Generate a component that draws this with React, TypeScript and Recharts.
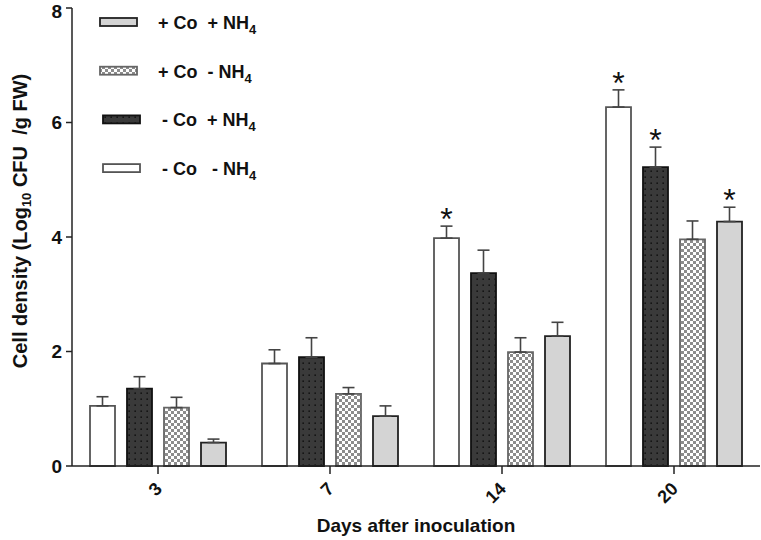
import React from 'react';
import { BarChart, Bar, XAxis, YAxis, ErrorBar, LabelList } from 'recharts';

const DAYS = ['3', '7', '14', '20'];

// series values (Log10 CFU / g FW)
const CO_NEG_NH4_NEG = [1.05, 1.79, 3.98, 6.27];
const CO_NEG_NH4_POS = [1.35, 1.9, 3.37, 5.22];
const CO_POS_NH4_NEG = [1.02, 1.26, 1.99, 3.96];
const CO_POS_NH4_POS = [0.41, 0.87, 2.27, 4.27];

// upper error (SE)
const ERR_CO_NEG_NH4_NEG = [0.16, 0.24, 0.21, 0.3];
const ERR_CO_NEG_NH4_POS = [0.21, 0.34, 0.4, 0.35];
const ERR_CO_POS_NH4_NEG = [0.18, 0.11, 0.25, 0.32];
const ERR_CO_POS_NH4_POS = [0.06, 0.18, 0.24, 0.25];

// significance marks
const SIG_CO_NEG_NH4_NEG = [false, false, true, true];
const SIG_CO_NEG_NH4_POS = [false, false, false, true];
const SIG_CO_POS_NH4_NEG = [false, false, false, false];
const SIG_CO_POS_NH4_POS = [false, false, false, true];

const Y_TICKS = [0, 2, 4, 6, 8];

const SERIES = [
  { key: 'a', co: '- Co', nh: '- NH', values: CO_NEG_NH4_NEG, err: ERR_CO_NEG_NH4_NEG, sig: SIG_CO_NEG_NH4_NEG, fill: '#ffffff', stroke: '#555555' },
  { key: 'b', co: '- Co', nh: '+ NH', values: CO_NEG_NH4_POS, err: ERR_CO_NEG_NH4_POS, sig: SIG_CO_NEG_NH4_POS, fill: 'url(#dotsPat)', stroke: '#111111' },
  { key: 'c', co: '+ Co', nh: '- NH', values: CO_POS_NH4_NEG, err: ERR_CO_POS_NH4_NEG, sig: SIG_CO_POS_NH4_NEG, fill: 'url(#checkPat)', stroke: '#666666' },
  { key: 'd', co: '+ Co', nh: '+ NH', values: CO_POS_NH4_POS, err: ERR_CO_POS_NH4_POS, sig: SIG_CO_POS_NH4_POS, fill: '#d4d4d4', stroke: '#222222' },
];

const data = DAYS.map((d, i) => {
  const row: any = { day: d };
  SERIES.forEach((s) => {
    row[s.key] = s.values[i];
    row[s.key + 'Err'] = [0, s.err[i]];
  });
  return row;
});

const FONT = '"Liberation Sans", Arial, sans-serif';

const XTick = (props: any) => {
  const { x, y, payload } = props;
  const px = x + 5;
  const py = y + 14;
  return (
    <text
      x={px}
      y={py}
      transform={`rotate(-45, ${px}, ${py})`}
      textAnchor="end"
      fontFamily={FONT}
      fontWeight="bold"
      fontSize={18}
      fill="#111"
    >
      {payload.value}
    </text>
  );
};

const makeStar = (s: any) => (props: any) => {
  const { x, y, width, height, index } = props;
  if (index == null || !s.sig[index]) return null;
  const v = s.values[index];
  const ppu = height / v;
  const capY = y - s.err[index] * ppu;
  return (
    <text
      x={x + width / 2}
      y={capY + 4}
      textAnchor="middle"
      fontFamily={FONT}
      fontSize={32}
      fill="#111"
    >
      *
    </text>
  );
};

const YLabel = (props: any) => {
  const vb = props.viewBox || { x: 0, y: 8, width: 72, height: 458 };
  const cx = 27;
  const cy = vb.y + vb.height / 2 - 16;
  return (
    <text
      x={cx}
      y={cy}
      transform={`rotate(-90, ${cx}, ${cy})`}
      textAnchor="middle"
      fontFamily={FONT}
      fontWeight="bold"
      fontSize={20}
      fill="#111"
      style={{ whiteSpace: 'pre' }}
    >
      Cell density (Log
      <tspan fontSize={13} dy={4}>10</tspan>
      <tspan dy={-4}> CFU  /g FW)</tspan>
    </text>
  );
};

const LegendBox = () => {
  const items = [...SERIES].reverse();
  return (
    <svg width={220} height={190} style={{ position: 'absolute', left: 90, top: 0 }}>
      {items.map((s, i) => {
        const cy = 22 + i * 48.7;
        const tx = s.co.startsWith('+') ? 68 : 72;
        const gap = s.co.startsWith('-') && s.nh.startsWith('-') ? '   ' : '  ';
        return (
          <g key={s.key}>
            <rect x={s.key === 'b' || s.key === 'a' ? 13 : 10} y={cy - 4} width={37} height={8} fill={s.fill} stroke={s.stroke} strokeWidth={1.8} />
            <text x={tx} y={cy + 7} fontFamily={FONT} fontWeight="bold" fontSize={18} fill="#111" style={{ whiteSpace: 'pre' }}>
              {s.co + gap + s.nh}
              <tspan fontSize={13} dy={5}>4</tspan>
            </text>
          </g>
        );
      })}
    </svg>
  );
};

export default function App() {
  return (
    <div style={{ position: 'absolute', left: 0, top: 0, width: 761, height: 540, background: '#fff' }}>
      <BarChart
        width={761}
        height={540}
        data={data}
        margin={{ top: 8, right: 1, left: 0, bottom: 0 }}
        barSize={25}
        barGap={12}
      >
        <defs>
          <pattern id="dotsPat" width="6" height="6" patternUnits="userSpaceOnUse">
            <rect width="6" height="6" fill="#3a3a3a" />
            <rect x="2.5" y="2.5" width="1.3" height="1.3" fill="#000" />
          </pattern>
          <pattern id="checkPat" width="6" height="6" patternUnits="userSpaceOnUse">
            <rect width="6" height="6" fill="#ffffff" />
            <rect x="0" y="0" width="3" height="3" fill="#8c8c8c" />
            <rect x="3" y="3" width="3" height="3" fill="#8c8c8c" />
          </pattern>
        </defs>
        <XAxis
          dataKey="day"
          height={74}
          tick={<XTick />}
          tickSize={8}
          tickMargin={2}
          axisLine={{ stroke: '#222', strokeWidth: 1.5 }}
          tickLine={{ stroke: '#222', strokeWidth: 1.5 }}
          label={{ value: 'Days after inoculation', position: 'insideBottom', offset: 8, fontFamily: FONT, fontWeight: 'bold', fontSize: 19, fill: '#111' }}
        />
        <YAxis
          width={72}
          domain={[0, 8]}
          ticks={Y_TICKS}
          tickSize={6}
          tickMargin={4}
          axisLine={{ stroke: '#222', strokeWidth: 1.5 }}
          tickLine={{ stroke: '#222', strokeWidth: 1.5 }}
          tick={{ fontFamily: FONT, fontWeight: 'bold', fontSize: 19, fill: '#111' }}
          label={<YLabel />}
        />
        {SERIES.map((s) => (
          <Bar
            key={s.key}
            dataKey={s.key}
            fill={s.fill}
            stroke={s.stroke}
            strokeWidth={1.8}
            isAnimationActive={false}
          >
            <ErrorBar dataKey={s.key + 'Err'} width={6} stroke="#444" strokeWidth={1.6} direction="y" />
            <LabelList dataKey={s.key} content={makeStar(s)} />
          </Bar>
        ))}
      </BarChart>
      <LegendBox />
    </div>
  );
}
